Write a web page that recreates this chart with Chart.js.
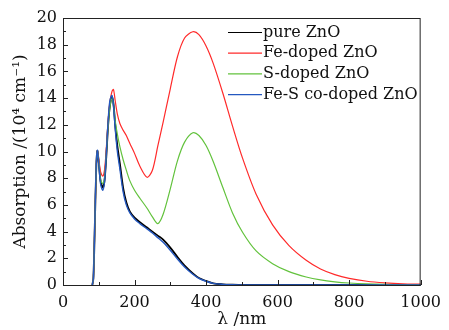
<!DOCTYPE html>
<html>
<head>
<meta charset="utf-8">
<script src="https://cdn.jsdelivr.net/npm/chart.js@4.4.0/dist/chart.umd.min.js"></script>
<style>
  html, body { margin: 0; padding: 0; background: #fff; }
  canvas { display: block; }
</style>
</head>
<body>
<canvas id="absChart" width="449" height="330"></canvas>
<script>
// wavelength grid (nm) shared by all curves
const wavelengths = [82, 85, 89, 93, 96, 100, 105, 111, 116, 121, 126, 131, 137, 141, 146, 152, 159, 168, 177, 187, 200, 215, 235, 250, 265, 280, 300, 320, 340, 363, 380, 400, 420, 447, 474, 502, 540, 586, 632, 680, 720, 760, 800, 850, 900, 950, 1000];

const pureZnO = [0, 0.5, 4.5, 8.8, 10.05, 9.2, 7.8, 7.3, 7.8, 9.6, 11.9, 13.4, 14.05, 13.6, 12.0, 10.4, 9.1, 7.3, 6.2, 5.5, 5.05, 4.7, 4.3, 4.0, 3.7, 3.4, 2.8, 2.1, 1.45, 0.87, 0.52, 0.3, 0.12, 0.05, 0.02, 0, 0, 0, 0, 0, 0, 0, 0, 0, 0, 0, 0];
const feDoped = [0, 0.5, 4.5, 8.8, 10.0, 9.4, 8.5, 8.15, 8.6, 10.2, 12.2, 13.7, 14.5, 14.65, 13.8, 12.8, 12.1, 11.6, 11.2, 10.6, 9.86, 8.9, 8.07, 8.6, 10.4, 12.2, 14.7, 17.1, 18.5, 18.97, 18.75, 17.9, 16.6, 14.36, 11.9, 9.5, 6.8, 4.5, 2.95, 1.85, 1.2, 0.78, 0.5, 0.28, 0.16, 0.09, 0.06];
const sDoped = [0, 0.5, 4.5, 8.8, 10.0, 9.2, 7.9, 7.6, 8.0, 9.8, 11.9, 13.3, 13.98, 13.5, 12.3, 11.3, 10.36, 9.4, 8.6, 7.8, 7.1, 6.5, 5.75, 5.1, 4.6, 5.3, 7.2, 9.3, 10.7, 11.4, 11.2, 10.45, 9.25, 7.3, 5.4, 3.95, 2.55, 1.6, 1.0, 0.6, 0.38, 0.24, 0.15, 0.08, 0.04, 0.02, 0.01];
const feSCoDoped = [0, 0.5, 4.7, 9.0, 10.1, 9.1, 7.6, 7.1, 7.7, 9.8, 12.2, 13.8, 14.2, 13.5, 11.7, 10.0, 8.7, 7.0, 6.0, 5.4, 4.95, 4.6, 4.2, 3.9, 3.55, 3.2, 2.6, 1.95, 1.35, 0.8, 0.5, 0.28, 0.12, 0.05, 0.02, 0, 0, 0, 0, 0, 0, 0, 0, 0, 0, 0, 0];

const seriesNames = ['pure ZnO', 'Fe-doped ZnO', 'S-doped ZnO', 'Fe-S co-doped ZnO'];
const seriesColors = ['#000000', '#ff2a2a', '#62c23c', '#2458c0'];
const seriesWidths = [1.8, 1.2, 1.2, 1.4];
const seriesValues = [pureZnO, feDoped, sDoped, feSCoDoped];

const xMajorTicks = [0, 200, 400, 600, 800, 1000];
const yMajorTicks = [0, 2, 4, 6, 8, 10, 12, 14, 16, 18, 20];

const serif = "'DejaVu Serif', 'Liberation Serif', serif";

// box around the plot, inward ticks, legend inside the plot
const framePlugin = {
  id: 'frame',
  afterDatasetsDraw(chart) {
    const { ctx, chartArea: a, scales } = chart;
    ctx.save();
    ctx.strokeStyle = '#222';
    ctx.lineWidth = 1;
    ctx.strokeRect(a.left + 0.5, a.top + 0.5, a.right - a.left - 1, a.bottom - a.top);
    ctx.beginPath();
    for (let v = 0; v <= 1000; v += 100) {
      const x = Math.round(scales.x.getPixelForValue(v)) + 0.5;
      const len = v % 200 === 0 ? 5 : 3;
      ctx.moveTo(x, a.bottom);
      ctx.lineTo(x, a.bottom - len);
    }
    for (let v = 0; v <= 20; v += 1) {
      const y = Math.round(scales.y.getPixelForValue(v)) + 0.5;
      const len = v % 2 === 0 ? 5 : 3;
      ctx.moveTo(a.left, y);
      ctx.lineTo(a.left + len, y);
    }
    ctx.stroke();

    // legend
    ctx.font = '16px ' + serif;
    ctx.textBaseline = 'middle';
    ctx.textAlign = 'left';
    chart.data.datasets.forEach((ds, i) => {
      const y = 32.5 + i * 20.7;
      ctx.strokeStyle = ds.borderColor;
      ctx.lineWidth = 1.2;
      ctx.beginPath();
      ctx.moveTo(228, y);
      ctx.lineTo(262, y);
      ctx.stroke();
      ctx.fillStyle = '#111';
      ctx.fillText(ds.label, 263, y);
    });
    ctx.restore();
  }
};

new Chart(document.getElementById('absChart'), {
  type: 'line',
  data: {
    datasets: seriesNames.map((name, i) => ({
      label: name,
      data: wavelengths.map((w, j) => ({ x: w, y: seriesValues[i][j] })),
      borderColor: seriesColors[i],
      borderWidth: seriesWidths[i],
      pointRadius: 0,
      fill: false,
      tension: 0.3,
      clip: 3,
      order: 4 - i
    }))
  },
  options: {
    responsive: false,
    animation: false,
    layout: { padding: { left: 0, right: 27, top: 18, bottom: 0 } },
    plugins: {
      legend: { display: false },
      tooltip: { enabled: false }
    },
    scales: {
      x: {
        type: 'linear',
        min: 0,
        max: 1000,
        afterBuildTicks: (s) => { s.ticks = xMajorTicks.map(v => ({ value: v })); },
        afterFit: (s) => { s.height = 45; },
        grid: { display: false, drawTicks: false },
        border: { display: false },
        ticks: { color: '#111', font: { family: serif, size: 16 }, padding: 8, maxRotation: 0, autoSkip: false, callback: (v) => String(v) },
        title: { display: true, text: 'λ /nm', color: '#111', font: { family: serif, size: 17 }, padding: { top: 0, bottom: 0 } }
      },
      y: {
        min: 0,
        max: 20,
        afterBuildTicks: (s) => { s.ticks = yMajorTicks.map(v => ({ value: v })); },
        afterFit: (s) => { s.width = 63; },
        grid: { display: false, drawTicks: false },
        border: { display: false },
        ticks: { color: '#111', font: { family: serif, size: 16 }, padding: 6, autoSkip: false, callback: (v) => String(v) },
        title: { display: true, text: 'Absorption /(10⁴ cm⁻¹)', color: '#111', font: { family: serif, size: 17 }, padding: { top: 10, bottom: 0 } }
      }
    }
  },
  plugins: [framePlugin]
});
</script>
</body>
</html>
